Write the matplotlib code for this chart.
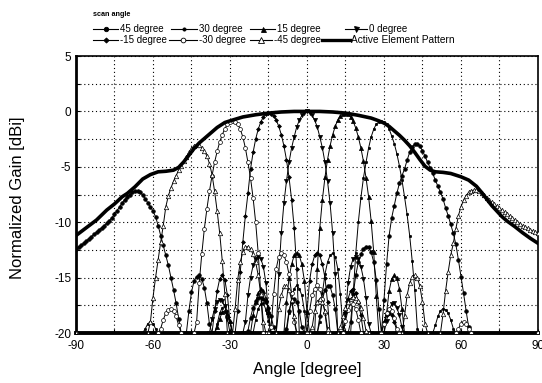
import matplotlib
matplotlib.use("Agg")
import matplotlib.pyplot as plt
from matplotlib.lines import Line2D

plt.rcParams['font.family'] = ['Liberation Sans', 'DejaVu Sans']
plt.rcParams['axes.unicode_minus'] = False

# ============================================================
# Data: each beam is a list of lobes (start angle, gains at 1 degree steps)
# values clipped at -20 dB like the original plot
# ============================================================
beam_p45 = [
    (-90, [-12.4, -12.25, -12.1, -11.9, -11.7, -11.5, -11.3, -11.1, -10.9, -10.7,
           -10.5, -10.3, -10.1, -9.85, -9.6, -9.3, -8.95, -8.6, -8.25, -7.95,
           -7.7, -7.5, -7.3, -7.2, -7.2, -7.3, -7.55, -7.9, -8.25, -8.6,
           -9.0, -9.5, -10.3, -11.2, -12.1, -13.0, -13.9, -15.0, -16.1, -17.3,
           -18.7, -20]),
    (-47, [-20, -18.0, -16.3, -15.3, -14.9, -14.8, -15.1, -15.9, -17.3, -19.2, -20]),
    (-24, [-20, -19.8, -18.6, -17.7, -17.1, -16.8, -16.75, -16.9, -17.2, -17.7, -18.5, -19.5, -20]),
    (-9, [-20, -19.6, -18.0, -17.2, -16.9, -17.2, -18.0, -19.5, -20]),
    (4, [-20, -18.5, -17.0, -16.1, -15.75, -15.8, -16.6, -17.8, -20]),
    (16, [-20, -19.0, -16.5, -14.8, -13.6, -12.9, -12.4, -12.2, -12.25, -12.7, -13.6, -15.2, -17.8, -20]),
    (30, [-17.0, -13.8, -11.2, -9.6, -8.5, -7.4, -6.5, -5.8, -5.2, -4.4,
          -3.7, -3.2, -2.95, -2.9, -3.15, -3.55, -4.05, -4.6, -5.1, -5.6,
          -6.2, -6.75, -7.3, -7.9, -8.7, -9.4, -10.2, -11.0, -12.0, -13.4,
          -14.9, -16.4, -18.0, -19.5, -20]),
]

beam_p30 = [
    (-64, [-20, -19.6, -19.15, -19.0, -19.15, -19.6, -20]),
    (-36, [-20, -19.2, -18.2, -17.7, -17.6, -18.0, -19.0, -20]),
    (-21, [-20, -18.8, -17.8, -17.4, -17.3, -17.9, -18.9, -20]),
    (-8, [-20, -18.2, -16.9, -16.0, -15.7, -16.0, -16.6, -18.0, -20]),
    (4, [-20, -19.0, -16.4, -14.7, -13.6, -13.0, -12.8, -13.1, -14.2, -16.5, -19.5, -20]),
    (17, [-20, -16.5, -12.8, -10.0, -7.8, -6.0, -4.6, -3.3, -2.3, -1.6,
          -1.15, -0.95, -0.9, -0.95, -1.15, -1.6, -2.2, -2.9, -3.8, -4.9,
          -6.2, -7.7, -9.3, -11.2, -13.5, -16.1, -19.6, -20]),
    (49, [-20, -19.3, -18.5, -18.0, -17.8, -17.9, -18.2, -18.8, -19.6, -20]),
]

beam_p15 = [
    (-36, [-20, -19.5, -18.7, -18.1, -18.0, -18.3, -18.9, -20]),
    (-22, [-20, -18.4, -17.2, -16.4, -16.0, -16.2, -16.9, -18.1, -20]),
    (-9, [-20, -17.2, -15.0, -13.8, -13.0, -12.75, -13.0, -13.8, -15.3, -18.1, -20]),
    (3, [-20, -14.2, -10.5, -7.95, -5.95, -4.35, -3.1, -2.1, -1.35, -0.75,
         -0.4, -0.2, -0.1, -0.2, -0.5, -0.9, -1.5, -2.3, -3.3, -4.5,
         -6.0, -7.7, -9.9, -12.7, -16.7, -20]),
    (30, [-20, -18.2, -16.2, -15.1, -14.8, -15.0, -16.0, -17.8, -20]),
]

beam_0 = [
    (-38, [-20, -18.7, -17.8, -17.2, -17.0, -17.1, -17.6, -18.7, -20]),
    (-25, [-20, -19.0, -16.6, -15.0, -13.9, -13.3, -13.1, -13.3, -14.0, -15.5, -18.3, -20]),
    (-12, [-20, -14.7, -11.0, -8.3, -6.3, -4.6, -3.3, -2.3, -1.4, -0.8, -0.35, -0.1, 0.0,
           -0.1, -0.35, -0.8, -1.4, -2.3, -3.3, -4.6, -6.3, -8.3, -11.0, -14.7, -20]),
    (14, [-20, -18.3, -15.5, -14.0, -13.3, -13.1, -13.3, -14.0, -15.1, -16.8, -19.2, -20]),
    (30, [-20, -18.9, -17.9, -17.4, -17.3, -17.7, -18.4, -19.5, -20]),
]

beam_m15 = [
    (-37, [-20, -18.0, -16.2, -15.1, -14.8, -15.2, -16.6, -19.0, -20]),
    (-28, [-20, -18.0, -14.5, -11.8, -9.4, -7.4, -5.2, -3.7, -2.5, -1.6,
           -0.95, -0.5, -0.25, -0.1, -0.2, -0.4, -0.75, -1.35, -2.1, -3.1,
           -4.35, -5.95, -7.95, -10.5, -14.2, -20]),
    (-1, [-20, -18.1, -15.3, -13.8, -13.0, -12.75, -13.0, -13.8, -15.0, -17.2, -20]),
    (14, [-20, -18.1, -16.9, -16.2, -16.0, -16.4, -17.2, -18.4, -20]),
    (29, [-20, -19.0, -18.4, -18.2, -18.4, -19.0, -19.8, -20]),
]

beam_m30 = [
    (-58, [-20, -19.6, -18.8, -18.2, -17.9, -17.8, -18.0, -18.5, -19.3, -20]),
    (-44, [-20, -19.0, -15.5, -12.9, -10.6, -8.8, -7.2, -5.8, -4.6, -3.6,
           -2.75, -2.1, -1.55, -1.15, -0.95, -0.9, -0.95, -1.15, -1.6, -2.3,
           -3.3, -4.6, -6.0, -7.8, -10.0, -12.8, -16.5, -20]),
    (-15, [-20, -19.5, -16.5, -14.2, -13.1, -12.8, -13.0, -13.6, -14.7, -16.4, -19.0, -20]),
    (0, [-20, -18.0, -16.6, -16.0, -15.7, -16.0, -16.9, -18.2, -20]),
    (14, [-20, -18.9, -17.9, -17.3, -17.4, -17.8, -18.8, -20]),
    (29, [-20, -19.2, -18.2, -17.8, -18.0, -18.6, -19.6, -20]),
    (58, [-20, -19.6, -19.15, -19.0, -19.15, -19.6, -20]),
]

beam_m45 = [
    (-62, [-20, -19.0, -16.8, -15.0, -13.4, -11.8, -10.3, -8.6, -7.6, -6.9,
           -6.3, -5.8, -5.3, -4.9, -4.5, -4.1, -3.7, -3.35, -3.1, -3.0,
           -3.05, -3.3, -3.6, -4.0, -4.7, -5.7, -7.2, -9.0, -11.0, -13.5,
           -16.5, -20]),
    (-29, [-20, -17.8, -15.2, -13.6, -12.7, -12.25, -12.2, -12.4, -12.9, -13.6, -14.8, -16.5, -19.0, -20]),
    (-12, [-20, -17.8, -16.6, -15.8, -15.75, -16.1, -17.0, -18.5, -20]),
    (1, [-20, -19.5, -18.0, -17.2, -16.9, -17.2, -18.0, -19.6, -20]),
    (12, [-20, -19.5, -18.5, -17.7, -17.2, -16.9, -16.75, -16.8, -17.1, -17.7, -18.6, -19.8, -20]),
    (37, [-20, -18.5, -16.6, -15.5, -14.95, -14.8, -15.0, -15.8, -17.2, -19.2, -20]),
    (52, [-20, -18.3, -16.2, -14.5, -13.0, -11.9, -10.6, -9.4, -8.6, -8.0,
          -7.6, -7.3, -7.15, -7.1, -7.1, -7.2, -7.35, -7.55, -7.8, -8.0,
          -8.2, -8.4, -8.55, -8.75, -8.9, -9.1, -9.25, -9.45, -9.6, -9.8,
          -9.95, -10.15, -10.3, -10.45, -10.55, -10.7, -10.8, -10.9, -11.0]),
]

elem_ang = [-90, -86, -82, -78, -75, -72, -70, -67, -64, -61,
            -58, -55, -52, -50, -48, -46, -44, -42, -40, -38,
            -35, -32, -30, -25, -20, -15, -10, -5, 0, 5,
            10, 15, 20, 25, 28, 30, 32, 34, 36, 38,
            40, 42, 44, 46, 48, 50, 53, 56, 60, 63,
            66, 68, 70, 72, 74, 76, 78, 81, 84, 87, 90]
elem_gain = [-11.2, -10.5, -9.8, -8.9, -8.35, -7.7, -7.4, -6.8, -6.1, -5.7,
             -5.45, -5.4, -5.3, -5.05, -4.55, -3.95, -3.35, -2.85, -2.45, -2.05,
             -1.45, -1.0, -0.85, -0.5, -0.3, -0.15, -0.05, 0.0, 0.0, 0.0,
             -0.05, -0.15, -0.35, -0.6, -0.85, -1.05, -1.35, -1.75, -2.15, -2.6,
             -3.1, -3.7, -4.35, -4.95, -5.3, -5.45, -5.5, -5.6, -5.9, -6.2,
             -6.75, -7.3, -7.9, -8.5, -9.0, -9.5, -9.9, -10.4, -10.95, -11.45, -11.9]

labels = ['45 degree', '30 degree', '15 degree', '0 degree',
          '-15 degree', '-30 degree', '-45 degree']
beams = [beam_p45, beam_p30, beam_p15, beam_0, beam_m15, beam_m30, beam_m45]

# marker style per scan angle: (marker, size, filled)
styles = [('o', 2.6, True), ('o', 1.7, True), ('^', 3.0, True), ('v', 3.0, True),
          ('D', 2.0, True), ('o', 2.8, False), ('^', 3.2, False)]


def build(segs):
    xs, ys = [], []
    if segs[0][0] > -90:
        xs.append(-90); ys.append(-20.0)
    for start, vals in segs:
        xs += [start + i for i in range(len(vals))]
        ys += vals
    if xs[-1] < 90:
        xs.append(90); ys.append(-20.0)
    return xs, ys


# ============================================================
# Plot
# ============================================================
fig = plt.figure(figsize=(5.42, 3.83), dpi=100)
ax = fig.add_axes([0.1402, 0.1305, 0.8524, 0.7232])

for segs, (mk, ms, filled) in zip(beams, styles):
    xs, ys = build(segs)
    ax.plot(xs, ys, color='black', lw=0.7, marker=mk, markersize=ms,
            markerfacecolor='black' if filled else 'white',
            markeredgecolor='black', markeredgewidth=0.5, zorder=3)

ax.plot(elem_ang, elem_gain, color='black', lw=2.6, zorder=4)

ax.set_xlim(-90, 90)
ax.set_ylim(-20, 5)
ax.set_xticks(range(-90, 91, 30))
ax.set_xticks(range(-75, 90, 30), minor=True)
ax.set_yticks(range(-20, 6, 5))
ax.set_yticks([-17.5, -12.5, -7.5, -2.5, 2.5], minor=True)
ax.grid(True, which='both', color='black', linestyle=(0, (1, 2.5)), linewidth=0.8)
ax.tick_params(which='both', direction='in', length=3, width=0.8, labelsize=8.5,
               top=False, right=False)
ax.tick_params(axis='x', pad=5)

ax.spines['left'].set_linewidth(2.0)
ax.spines['bottom'].set_linewidth(2.8)
ax.spines['top'].set_linewidth(1.2)
ax.spines['right'].set_linewidth(1.2)

ax.set_xlabel('Angle [degree]', fontsize=12)
ax.xaxis.set_label_coords(0.5, -0.105)
ax.set_ylabel('Normalized Gain [dBi]', fontsize=12)
ax.yaxis.set_label_coords(-0.11, 0.49)

# ============================================================
# Legend drawn above the axes
# ============================================================
W, H = 542.0, 383.0
fig.text(93 / W, 1 - 15 / H, 'scan angle', fontsize=5.2, fontweight='bold',
         va='center', ha='left')

legend_pos = [(93, 118, 29), (171, 197, 29), (250, 275, 29), (345, 367, 29),
              (93, 118, 40), (169, 197, 40), (250, 272, 40)]
for (x0, x1, y), lab, (mk, ms, filled) in zip(legend_pos, labels, styles):
    yf = 1 - y / H
    fig.add_artist(Line2D([x0 / W, x1 / W], [yf, yf], transform=fig.transFigure,
                          color='black', lw=0.8))
    fig.add_artist(Line2D([(x0 + x1) / 2 / W], [yf], transform=fig.transFigure,
                          marker=mk, markersize=ms + 0.6, color='black',
                          markerfacecolor='black' if filled else 'white',
                          markeredgewidth=0.6, lw=0))
    fig.text((x1 + 2) / W, yf, lab, fontsize=7, va='center', ha='left')

yf = 1 - 40 / H
fig.add_artist(Line2D([322 / W, 350 / W], [yf, yf], transform=fig.transFigure,
                      color='black', lw=2.4))
fig.text(351 / W, yf, 'Active Element Pattern', fontsize=7.3, va='center', ha='left')

fig.savefig('out.png', dpi=100)
